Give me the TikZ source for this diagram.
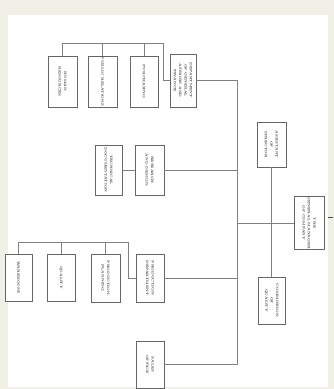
\documentclass[tikz,border=0pt]{standalone}
\usepackage{graphicx}
\definecolor{creamb}{RGB}{241,240,231}
\begin{document}
\begin{tikzpicture}[x=1pt,y=-1pt,
  box/.style={draw=black!60,line width=0.9pt,fill=white,inner sep=0pt,
    font=\fontsize{3.3}{3.9}\selectfont\bfseries,text=black!80,
    minimum width=28pt,minimum height=50pt},
  link/.style={draw=black!50,line width=0.8pt}]
\useasboundingbox (0,0) rectangle (334,389);
\fill[creamb] (0,0) rectangle (334,389);
\fill[white] (8,15) rectangle (328,387);
\newcommand{\rt}[1]{\rotatebox{-90}{\shortstack{#1}}}
% nodes
\node[box,minimum width=29pt,minimum height=51pt] (A) at (62.5,81.5) {\rt{HUMAN\\RESOURCES}};
\node[box,minimum width=29pt,minimum height=51pt] (B) at (102.5,81.5) {\rt{PUBLIC RELATIONS}};
\node[box,minimum width=28pt,minimum height=51pt] (C) at (144,81.5) {\rt{PURCHASING}};
\node[box,minimum width=26pt,minimum height=53pt] (D) at (183,80.5) {\rt{DEPARTMENT\\OF GENERAL\\AFFAIRS AND\\FINANCE}};
\node[box,minimum width=27pt] (H) at (108.5,170) {\rt{TECHNICAL\\DOCUMENTATION}};
\node[box,minimum width=29pt] (I) at (149.5,170) {\rt{RESEARCH\\AND DESIGN}};
\node[box,minimum width=29pt,minimum height=45pt] (E) at (271.5,144.5) {\rt{ASSISTANT\\OF\\DIRECTOR}};
\node[box,minimum width=30pt] (G) at (309,223) {\rt{THE\\GENERAL MANAGER\\OF COMPANY}};
\node[box,minimum width=27pt,minimum height=47pt] (F) at (271.5,300.5) {\rt{COMMISSION\\OF\\QUALITY}};
\node[box,minimum width=27pt,minimum height=47pt] (J) at (18.5,277.5) {\rt{WAREHOUSE}};
\node[box,minimum width=28pt,minimum height=47pt] (K) at (61,277.5) {\rt{QUALITY}};
\node[box,minimum width=29pt,minimum height=48pt] (L) at (105.5,278) {\rt{PRODUCTION\\PLANNING}};
\node[box,minimum width=28pt,minimum height=48pt] (M) at (150,278) {\rt{PRODUCTION\\DEPARTMENT}};
\node[box,minimum width=28pt,minimum height=47pt] (N) at (150,364.5) {\rt{SALES\\OFFICE}};
% coordinates
\coordinate (tb1) at (62,43);
\coordinate (tb2) at (163,43);
\coordinate (lb1) at (18,242);
\coordinate (lb2) at (128,242);
\coordinate (vt) at (237,80.5);
\coordinate (vb) at (237,364.5);
\coordinate (ar1) at (328,217);
\coordinate (ar2) at (333,217);
% connectors
\draw[link] (A.north) -- (A.north |- tb1) -- (tb2) |- (D.west);
\draw[link] (B.north) -- (B.north |- tb1);
\draw[link] (C.north) -- (C.north |- tb1);
\draw[link] (D.east) -- (vt) -- (vb) -- (N.east);
\draw[link] (H.east) -- (I.west);
\draw[link] (I.east) -- (I.east -| vt);
\draw[link] (M.east) -- (M.east -| vt);
\draw[link] (G.west) -- (G.west -| vt);
\draw[link] (E.south) -- (F.north);
\draw[link] (J.north) -- (J.north |- lb1) -- (lb2) |- (M.west);
\draw[link] (K.north) -- (K.north |- lb1);
\draw[link] (L.north) -- (L.north |- lb1);
\draw[black!70,line width=0.9pt] (ar1) -- (ar2);
\end{tikzpicture}
\end{document}
